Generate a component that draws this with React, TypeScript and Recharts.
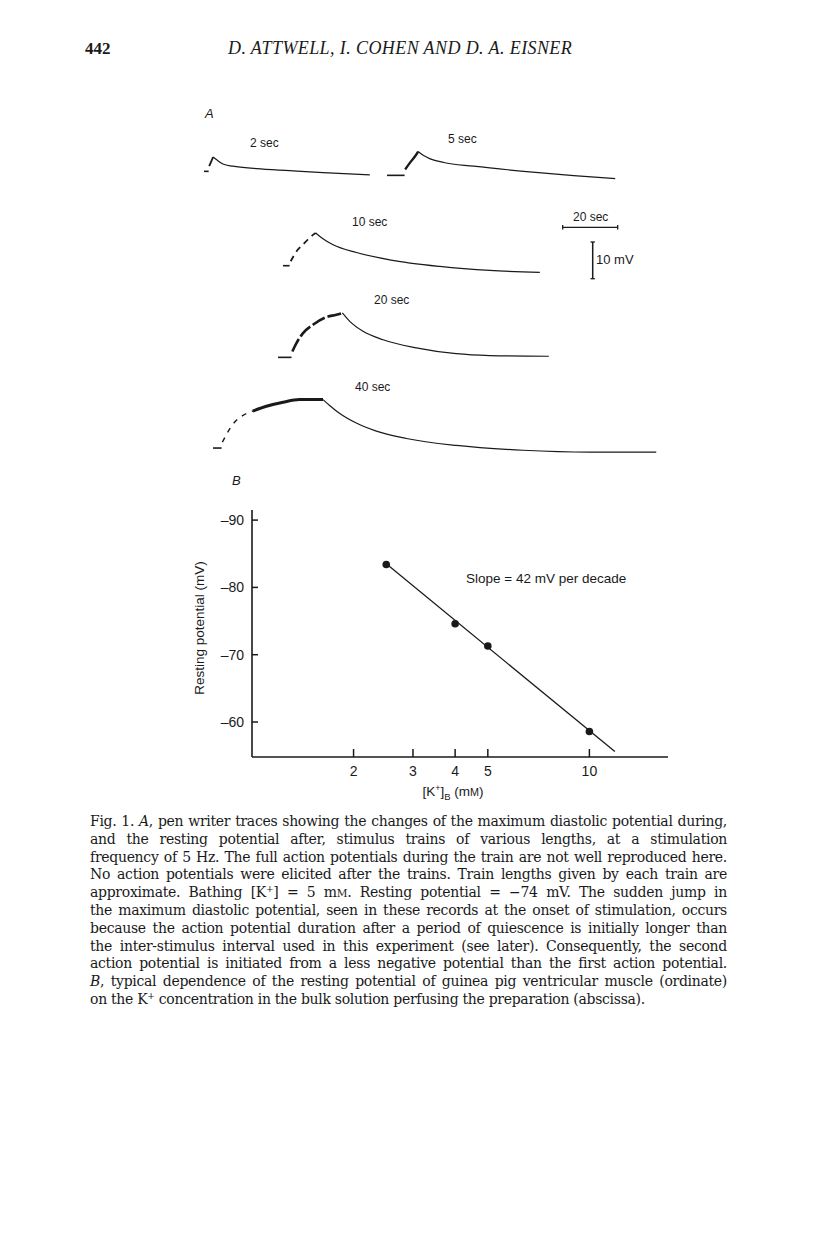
import React from 'react';
import { ComposedChart, LineChart, Line, Scatter, XAxis, YAxis } from 'recharts';

// ---- Panel B: resting potential vs [K+]B ----
const kConc = [2.5, 4, 5, 10];
const restingPotential = [-83.4, -74.6, -71.3, -58.6];
const fitConc = [2.5, 11.9];
const fitPotential = [-83.5, -55.6];
const xTicks = [2, 3, 4, 5, 10];
const yTicks = [-90, -80, -70, -60];

// ---- Panel A: pen traces, [time s, depolarisation mV] relative to pre-train rest ----
const trace2Rest = [[0, 0], [1.7, 0]];
const trace2Train = [[1.9, 1.4], [3.3, 3.9]];
const trace2Recovery = [[3.3, 3.9], [4.5, 3.2], [6.9, 2.0], [10.5, 1.4], [19.1, 0.74], [31.2, 0.19], [43.3, -0.35], [60.3, -0.98]];

const trace5Rest = [[0, 0], [6.4, 0]];
const trace5Train = [[6.6, 1.6], [8.5, 3.6], [10.2, 5.2], [11.3, 6.5]];
const trace5Recovery = [[11.3, 6.5], [13.3, 5.4], [15.7, 4.5], [20.6, 3.5], [31.5, 2.5], [49.7, 1.1], [67.9, -0.1], [83.0, -0.9]];

const trace10Rest = [[0, 0], [2.4, 0]];
const trace10Train = [[2.8, 1.2], [5.4, 4.4], [7.2, 5.7], [9.0, 7.1], [10.9, 8.4], [11.9, 8.9]];
const trace10Recovery = [[11.9, 8.9], [14.0, 7.6], [18.2, 5.7], [26.7, 3.6], [38.8, 1.6], [57.0, -0.2], [75.2, -1.3], [93.4, -1.8]];

const trace20Rest = [[0, 0], [4.9, 0]];
const trace20Train = [[5.2, 1.6], [6.7, 3.9], [9.1, 6.6], [12.7, 8.9], [17.6, 11.0], [21.2, 11.6], [23.4, 12.1]];
const trace20Recovery = [[23.4, 12.1], [26.1, 9.8], [30.9, 7.1], [38.2, 4.8], [50.3, 2.6], [64.8, 1.0], [77.0, 0.5], [98.5, 0.3]];

const trace40Rest = [[0, 0], [3.1, 0]];
const trace40Onset = [[3.4, 1.6], [5.4, 4.4], [7.9, 7.1], [10.9, 8.9], [14.5, 10.1]];
const trace40Train = [[14.5, 10.1], [19.4, 11.4], [25.5, 12.5], [31.5, 13.2], [40.0, 13.2]];
const trace40Recovery = [[40.0, 13.2], [42.4, 11.6], [46.1, 9.4], [52.1, 6.8], [59.4, 4.6], [70.3, 2.6], [88.5, 0.7], [112.7, -0.6], [137.0, -1.1], [161.2, -1.1]];

const INK = '#1a1a1a';
const SANS = '"Liberation Sans", Arial, sans-serif';
const SERIF = '"Liberation Serif", "Times New Roman", serif';
const BODY = '"DejaVu Serif", serif';
const PX_PER_S = 2.75;
const PX_PER_MV = 3.67;

const toPts = (pairs: number[][]) => pairs.map(([t, v]) => ({ t, v }));

type Part = { pts: number[][]; width: number; dash?: string };

function Trace({ left, base, tMax, vMax, parts }: { left: number; base: number; tMax: number; vMax: number; parts: Part[] }) {
  const vMin = -3;
  const width = tMax * PX_PER_S;
  const height = (vMax - vMin) * PX_PER_MV;
  return (
    <div style={{ position: 'absolute', left, top: base - vMax * PX_PER_MV }}>
      <LineChart width={width} height={height} margin={{ top: 0, right: 0, bottom: 0, left: 0 }}>
        <XAxis type="number" dataKey="t" domain={[0, tMax]} hide />
        <YAxis type="number" domain={[vMin, vMax]} hide />
        {parts.map((p, i) => (
          <Line
            key={i}
            data={toPts(p.pts)}
            dataKey="v"
            type="monotone"
            stroke={INK}
            strokeWidth={p.width}
            strokeDasharray={p.dash}
            dot={false}
            isAnimationActive={false}
          />
        ))}
      </LineChart>
    </div>
  );
}

const minus = (v: number) => String(v).replace('-', '\u2013');

function YTick({ x, y, payload }: any) {
  return (
    <g>
      <line x1={x} y1={y} x2={x + 6} y2={y} stroke={INK} strokeWidth={1.5} />
      <text x={x - 8} y={y + 5} textAnchor="end" fontSize={14} fontFamily={SANS} fill={INK}>
        {minus(payload.value)}
      </text>
    </g>
  );
}

function XTick({ x, y, payload }: any) {
  return (
    <g>
      <line x1={x} y1={y} x2={x} y2={y - 8} stroke={INK} strokeWidth={1.5} />
      <text x={x} y={y + 19} textAnchor="middle" fontSize={14} fontFamily={SANS} fill={INK}>
        {payload.value}
      </text>
    </g>
  );
}

const abs = (left: number, top: number, extra: React.CSSProperties = {}): React.CSSProperties => ({
  position: 'absolute',
  left,
  top,
  whiteSpace: 'nowrap',
  ...extra,
});

const supStyle: React.CSSProperties = { fontSize: '0.65em', position: 'relative', top: '-0.55em', lineHeight: 0 };
const smallCap: React.CSSProperties = { fontSize: '0.75em' };

const captionLines: React.ReactNode[] = [
  <>Fig. 1. <i>A</i>, pen writer traces showing the changes of the maximum diastolic potential during,</>,
  <>and the resting potential after, stimulus trains of various lengths, at a stimulation</>,
  <>frequency of 5 Hz. The full action potentials during the train are not well reproduced here.</>,
  <>No action potentials were elicited after the trains. Train lengths given by each train are</>,
  <>approximate. Bathing [K<span style={supStyle}>+</span>] = 5 m<span style={smallCap}>M</span>. Resting potential = −74 mV. The sudden jump in</>,
  <>the maximum diastolic potential, seen in these records at the onset of stimulation, occurs</>,
  <>because the action potential duration after a period of quiescence is initially longer than</>,
  <>the inter-stimulus interval used in this experiment (see later). Consequently, the second</>,
  <>action potential is initiated from a less negative potential than the first action potential.</>,
  <><i>B</i>, typical dependence of the resting potential of guinea pig ventricular muscle (ordinate)</>,
  <>on the K<span style={supStyle}>+</span> concentration in the bulk solution perfusing the preparation (abscissa).</>,
];

export default function App() {
  const scatterData = kConc.map((x, i) => ({ x, y: restingPotential[i] }));
  const fitData = fitConc.map((x, i) => ({ x, y: fitPotential[i] }));

  return (
    <div style={{ position: 'absolute', left: 0, top: 0, width: 816, height: 1243, background: '#fff', color: INK, overflow: 'hidden' }}>
      {/* page header */}
      <div style={abs(85, 39, { fontFamily: SERIF, fontSize: 17, fontWeight: 'bold' })}>442</div>
      <div style={abs(228, 38, { fontFamily: SERIF, fontSize: 18, fontStyle: 'italic', letterSpacing: 0.4 })}>D. ATTWELL, I. COHEN AND D. A. EISNER</div>

      {/* panel A */}
      <div style={abs(205, 106, { fontFamily: SANS, fontSize: 13, fontStyle: 'italic' })}>A</div>
      <div style={abs(250, 136, { fontFamily: SANS, fontSize: 12 })}>2 sec</div>
      <div style={abs(448, 132, { fontFamily: SANS, fontSize: 12 })}>5 sec</div>
      <div style={abs(352, 215, { fontFamily: SANS, fontSize: 12 })}>10 sec</div>
      <div style={abs(374, 293, { fontFamily: SANS, fontSize: 12 })}>20 sec</div>
      <div style={abs(355, 380, { fontFamily: SANS, fontSize: 12 })}>40 sec</div>

      <Trace left={204.3} base={171.7} tMax={62} vMax={5} parts={[
        { pts: trace2Rest, width: 1.6 },
        { pts: trace2Train, width: 1.8 },
        { pts: trace2Recovery, width: 1.2 },
      ]} />
      <Trace left={386.7} base={175.7} tMax={85} vMax={8} parts={[
        { pts: trace5Rest, width: 1.6 },
        { pts: trace5Train, width: 2.4 },
        { pts: trace5Recovery, width: 1.2 },
      ]} />
      <Trace left={283.3} base={266} tMax={95} vMax={10} parts={[
        { pts: trace10Rest, width: 1.6 },
        { pts: trace10Train, width: 1.8, dash: '6 5' },
        { pts: trace10Recovery, width: 1.2 },
      ]} />
      <Trace left={278.3} base={357.7} tMax={100} vMax={14} parts={[
        { pts: trace20Rest, width: 1.6 },
        { pts: trace20Train, width: 2.6, dash: '14 3' },
        { pts: trace20Recovery, width: 1.2 },
      ]} />
      <Trace left={213.3} base={447.7} tMax={163} vMax={15} parts={[
        { pts: trace40Rest, width: 1.6 },
        { pts: trace40Onset, width: 1.4, dash: '5 6' },
        { pts: trace40Train, width: 3 },
        { pts: trace40Recovery, width: 1.2 },
      ]} />

      {/* scale bars */}
      <svg style={{ position: 'absolute', left: 0, top: 0 }} width={816} height={500}>
        <line x1={562.7} y1={227.3} x2={617.7} y2={227.3} stroke={INK} strokeWidth={1.3} />
        <line x1={562.7} y1={225} x2={562.7} y2={229.6} stroke={INK} strokeWidth={1.3} />
        <line x1={617.7} y1={225} x2={617.7} y2={229.6} stroke={INK} strokeWidth={1.3} />
        <line x1={592.7} y1={242} x2={592.7} y2={278.7} stroke={INK} strokeWidth={1.5} />
        <line x1={590.5} y1={242} x2={594.9} y2={242} stroke={INK} strokeWidth={1.3} />
        <line x1={590.5} y1={278.7} x2={594.9} y2={278.7} stroke={INK} strokeWidth={1.3} />
      </svg>
      <div style={abs(573, 210, { fontFamily: SANS, fontSize: 12 })}>20 sec</div>
      <div style={abs(596, 252, { fontFamily: SANS, fontSize: 13 })}>10 mV</div>

      {/* panel B */}
      <div style={abs(232, 473, { fontFamily: SANS, fontSize: 13, fontStyle: 'italic' })}>B</div>
      <div style={{ position: 'absolute', left: 150, top: 490 }}>
        <ComposedChart width={530} height={320} margin={{ top: 20, right: 12, bottom: 0, left: 0 }}>
          <XAxis
            type="number"
            dataKey="x"
            scale="log"
            domain={[1, 17.1]}
            ticks={xTicks}
            allowDataOverflow
            height={53}
            tickSize={0}
            tickMargin={0}
            tick={<XTick />}
            axisLine={{ stroke: INK, strokeWidth: 1.6 }}
            tickLine={false}
            interval={0}
          />
          <YAxis
            type="number"
            dataKey="y"
            domain={[-91.5, -54.8]}
            reversed
            ticks={yTicks}
            allowDataOverflow
            width={102}
            tickSize={0}
            tickMargin={0}
            tick={<YTick />}
            axisLine={{ stroke: INK, strokeWidth: 1.6 }}
            tickLine={false}
            interval={0}
          />
          <Line data={fitData} dataKey="y" type="linear" stroke={INK} strokeWidth={1.3} dot={false} isAnimationActive={false} />
          <Scatter data={scatterData} dataKey="y" fill={INK} shape={(p: any) => <circle cx={p.cx} cy={p.cy} r={3.8} fill={INK} />} isAnimationActive={false} />
        </ComposedChart>
      </div>
      <div style={abs(466, 571, { fontFamily: SANS, fontSize: 13.5 })}>Slope = 42 mV per decade</div>
      <div style={{ position: 'absolute', left: 199, top: 628, transform: 'translate(-50%, -50%) rotate(-90deg)', whiteSpace: 'nowrap', fontFamily: SANS, fontSize: 13.5 }}>
        Resting potential (mV)
      </div>
      <div style={abs(453, 784, { fontFamily: SANS, fontSize: 13.5, transform: 'translateX(-50%)' })}>
        [K<span style={supStyle}>+</span>]<sub style={{ fontSize: '0.7em', lineHeight: 0 }}>B</sub> (m<span style={{ fontSize: '0.8em' }}>M</span>)
      </div>

      {/* caption */}
      <div style={{ position: 'absolute', left: 90, top: 813, width: 637, fontFamily: BODY, fontSize: 14, letterSpacing: -0.3, lineHeight: '17.8px' }}>
        {captionLines.map((ln, i) => (
          <div
            key={i}
            style={{
              whiteSpace: 'nowrap',
              height: 17.8,
              textAlign: 'justify',
              textAlignLast: i === captionLines.length - 1 ? 'left' : 'justify',
            }}
          >
            {ln}
          </div>
        ))}
      </div>
    </div>
  );
}
